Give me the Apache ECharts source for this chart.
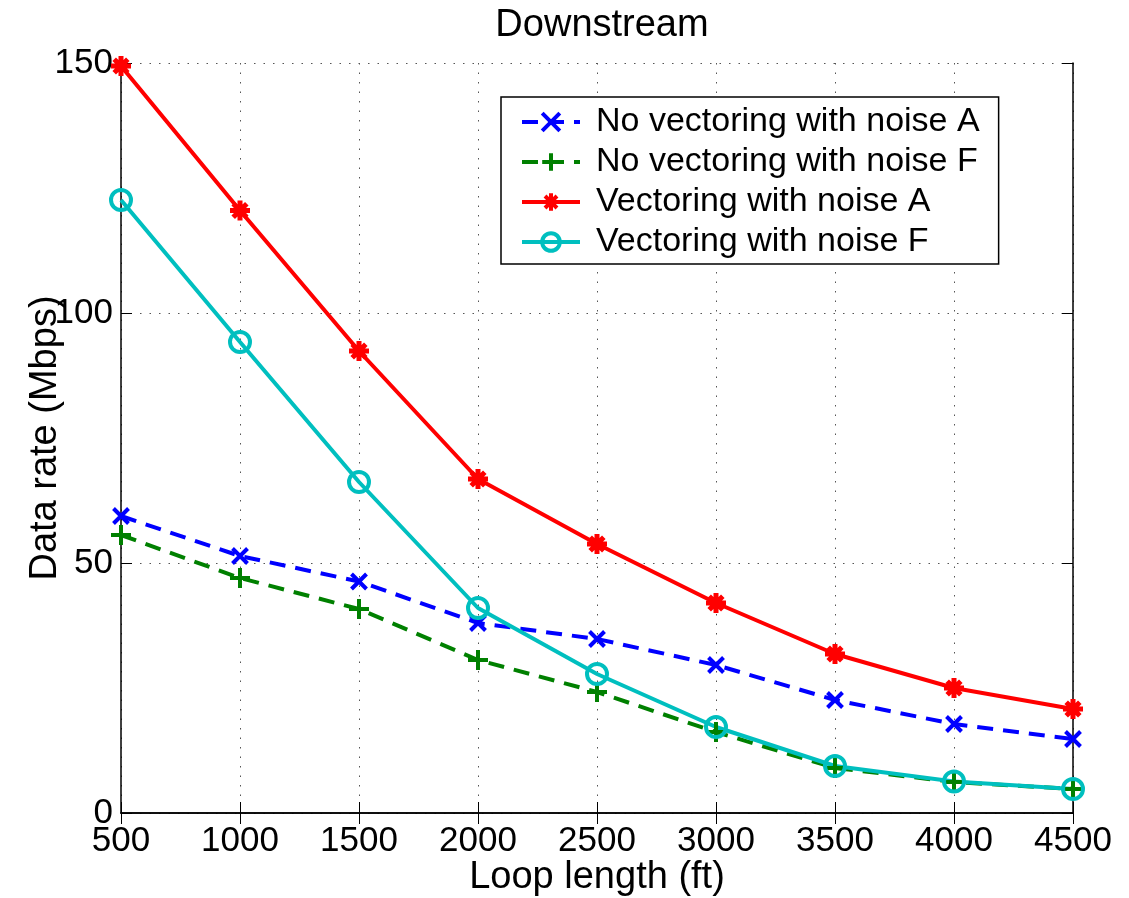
<!DOCTYPE html>
<html>
<head>
<meta charset="utf-8">
<title>Downstream</title>
<script src="https://cdn.jsdelivr.net/npm/echarts@6/dist/echarts.min.js"></script>
<style>
  html, body { margin: 0; padding: 0; background: #fff; }
  #chart { width: 1129px; height: 898px; }
</style>
</head>
<body>
<div id="chart"></div>
<script>
// Loop lengths (ft)
const loopLengths = [500, 1000, 1500, 2000, 2500, 3000, 3500, 4000, 4500];

// Downstream data rates (Mbps)
const noVecNoiseA = [59.4, 51.4, 46.3, 38.0, 34.8, 29.6, 22.6, 17.8, 14.8];
const noVecNoiseF = [55.6, 47.0, 40.8, 30.6, 24.2, 16.2, 9.0, 6.2, 4.8];
const vecNoiseA   = [149.4, 120.5, 92.4, 66.8, 53.8, 42.0, 31.8, 25.0, 20.8];
const vecNoiseF   = [122.6, 94.2, 66.2, 41.0, 27.8, 17.2, 9.4, 6.3, 4.8];

const seriesNames = [
  'No vectoring with noise A',
  'No vectoring with noise F',
  'Vectoring with noise A',
  'Vectoring with noise F'
];

const FONT = '"Liberation Sans", Arial, Helvetica, sans-serif';

// Marker shapes drawn as strokes
const X_MARK = 'path://M0,0L10,10M10,0L0,10';
const PLUS_MARK = 'path://M5,0L5,10M0,5L10,5';
const STAR_MARK = 'path://M5,0L5,10M0,5L10,5M1.6,1.6L8.4,8.4M8.4,1.6L1.6,8.4';

function pairs(values) {
  return loopLengths.map((x, i) => [x, values[i]]);
}

function makeSeries(name, values, color, dashed, symbol, size, fill, markWidth) {
  return {
    name: name,
    type: 'line',
    data: pairs(values),
    clip: false,
    symbol: symbol,
    symbolSize: size,
    showAllSymbol: true,
    lineStyle: { color: color, width: 4, type: dashed ? [16, 10] : 'solid' },
    itemStyle: { color: fill, borderColor: color, borderWidth: markWidth },
    emphasis: { disabled: true },
    animation: false
  };
}

const chart = echarts.init(document.getElementById('chart'), null, { renderer: 'canvas' });

const gridLine = { show: true, lineStyle: { color: '#555', width: 1, type: [1.5, 8] } };
const frameLine = { show: true, lineStyle: { color: '#000', width: 1.5 } };
const innerTick = { show: true, inside: true, length: 11, lineStyle: { color: '#000', width: 1 } };

chart.setOption({
  backgroundColor: '#fff',
  animation: false,
  title: {
    text: 'Downstream',
    left: 597,
    top: 2,
    textAlign: 'center',
    textStyle: { fontFamily: FONT, fontSize: 38, fontWeight: 'normal', color: '#000' }
  },
  grid: {
    left: 121, right: 56, top: 63, bottom: 85,
    containLabel: false,
    outerBoundsMode: 'none'
  },
  legend: {
    data: seriesNames,
    orient: 'vertical',
    left: 501,
    top: 97,
    itemWidth: 58,
    itemHeight: 22,
    itemGap: 6,
    padding: [8, 19, 5, 19],
    backgroundColor: '#fff',
    borderColor: '#000',
    borderWidth: 1.5,
    borderRadius: 0,
    selectedMode: false,
    itemStyle: { borderWidth: 4 },
    lineStyle: { width: 4 },
    textStyle: {
      fontFamily: FONT, fontSize: 34, color: '#000',
      padding: [0, 0, 0, 11]
    }
  },
  xAxis: [
    {
      type: 'value',
      min: 500, max: 4500, interval: 500,
      name: 'Loop length (ft)',
      nameLocation: 'middle',
      nameGap: 46,
      nameMoveOverlap: false,
      nameTextStyle: { fontFamily: FONT, fontSize: 38, color: '#000' },
      axisLine: frameLine,
      axisTick: innerTick,
      axisLabel: {
        fontFamily: FONT, fontSize: 35, color: '#000', margin: 11,
        formatter: v => String(v)
      },
      splitLine: gridLine
    },
    {
      type: 'value', position: 'top',
      min: 500, max: 4500, interval: 500,
      axisLine: frameLine,
      axisTick: innerTick,
      axisLabel: { show: false },
      splitLine: { show: false }
    }
  ],
  yAxis: [
    {
      type: 'value',
      min: 0, max: 150, interval: 50,
      name: 'Data rate (Mbps)',
      nameLocation: 'middle',
      nameGap: 56,
      nameMoveOverlap: false,
      nameTextStyle: { fontFamily: FONT, fontSize: 38, color: '#000' },
      axisLine: frameLine,
      axisTick: innerTick,
      axisLabel: { fontFamily: FONT, fontSize: 35, color: '#000', margin: 8 },
      splitLine: gridLine
    },
    {
      type: 'value', position: 'right',
      min: 0, max: 150, interval: 50,
      axisLine: frameLine,
      axisTick: innerTick,
      axisLabel: { show: false },
      splitLine: { show: false }
    }
  ],
  series: [
    makeSeries(seriesNames[0], noVecNoiseA, '#0000ff', true, X_MARK, 15, '#0000ff', 4),
    makeSeries(seriesNames[1], noVecNoiseF, '#008000', true, PLUS_MARK, 20, '#008000', 4),
    makeSeries(seriesNames[2], vecNoiseA, '#ff0000', false, STAR_MARK, 20, '#ff0000', 5),
    makeSeries(seriesNames[3], vecNoiseF, '#00bfbf', false, 'circle', 20, 'rgba(0,0,0,0)', 4)
  ]
});
</script>
</body>
</html>
